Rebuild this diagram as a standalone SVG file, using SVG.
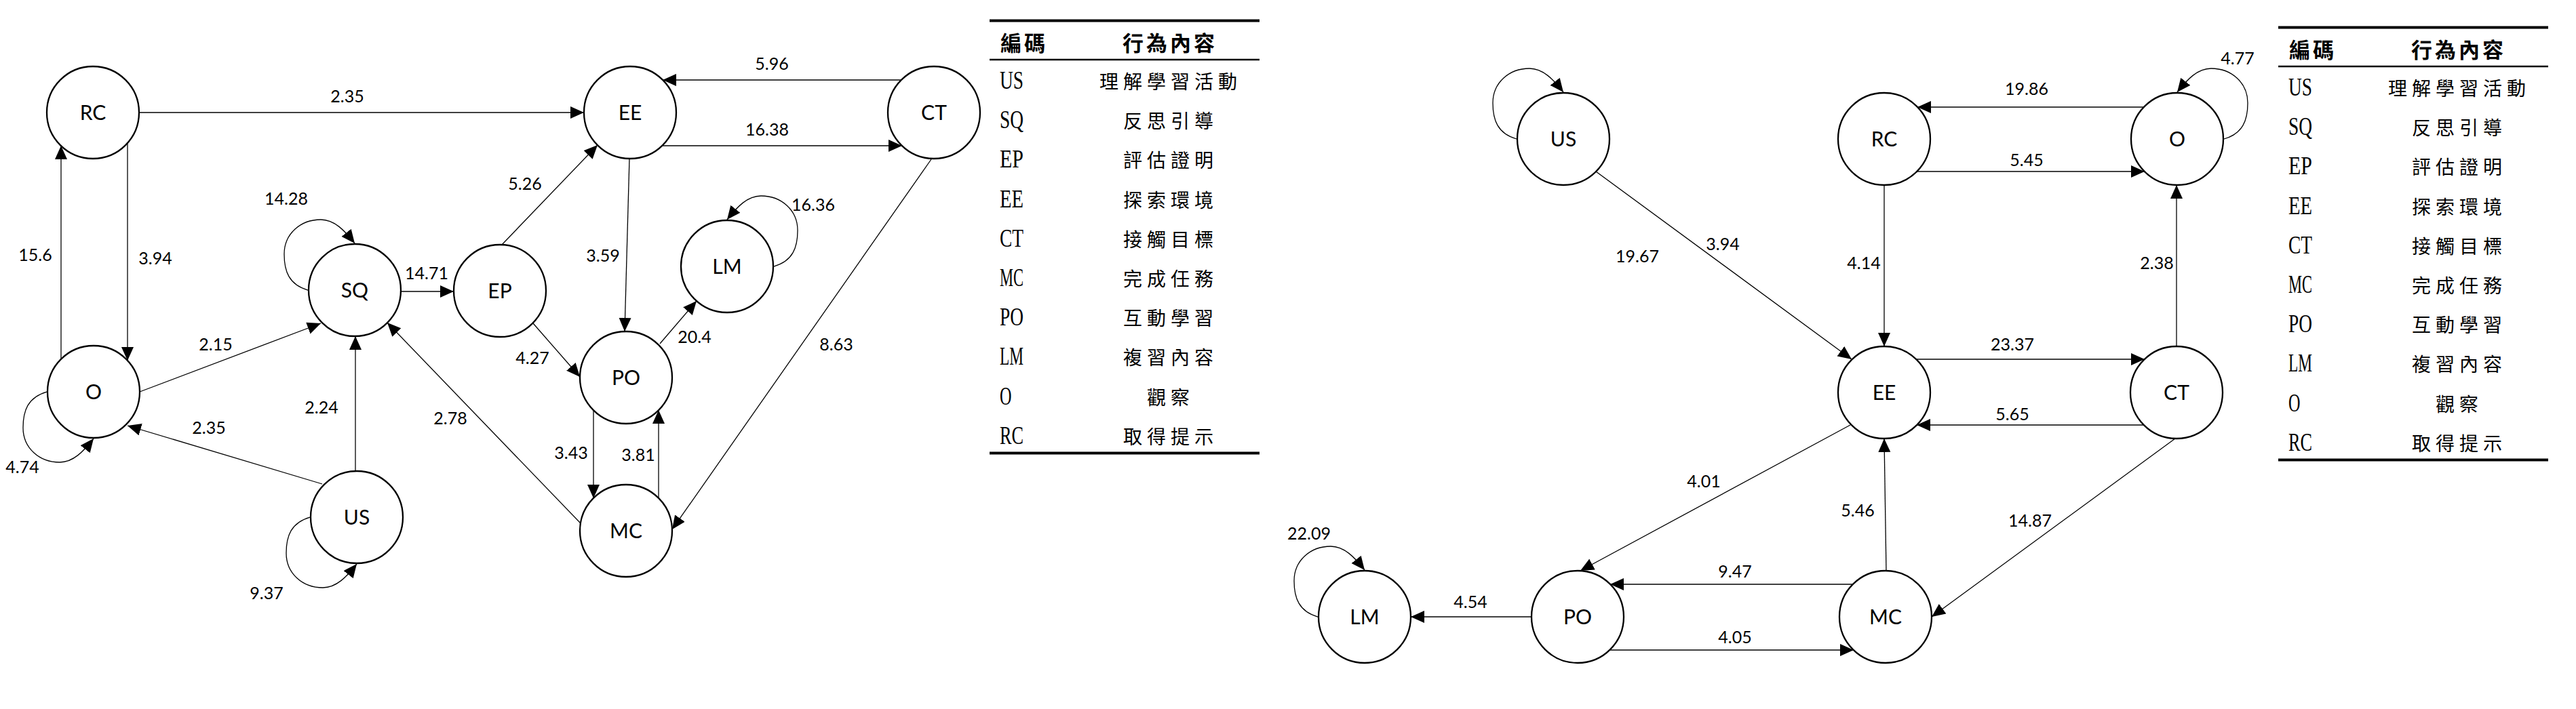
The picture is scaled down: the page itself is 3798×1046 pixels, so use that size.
<svg xmlns="http://www.w3.org/2000/svg" width="3798" height="1046" viewBox="0 0 3798 1046">
<style>
.node circle{fill:#fff;stroke:#000;stroke-width:2.3}
.node text{font-family:Lato,"Liberation Sans",sans-serif;font-size:30px;text-anchor:middle;fill:#000}
.lbl{font-family:Lato,"Liberation Sans",sans-serif;font-size:25px;text-anchor:middle;fill:#000}
.code{font-family:"Liberation Serif",serif;font-size:37px;fill:#000}
.desc{font-family:"Noto Sans CJK TC","Noto Sans CJK SC",sans-serif;font-size:28px;letter-spacing:7px;text-anchor:middle;fill:#000}
.head{font-family:"Noto Sans CJK TC","Noto Sans CJK SC",sans-serif;font-size:31px;font-weight:bold;letter-spacing:4px;fill:#000}
.thick{stroke:#000;stroke-width:4}
.thin{stroke:#000;stroke-width:2.3}
</style>
<defs>
<marker id="ah" markerUnits="userSpaceOnUse" markerWidth="22" markerHeight="20" refX="20" refY="9" orient="auto">
<path d="M0,0 L20,9 L0,18 z" fill="#000"/>
</marker>
</defs>
<rect width="3798" height="1046" fill="#fff"/>

<g id="connectors" fill="none" stroke="#000" stroke-width="1.3" marker-end="url(#ah)">
<!-- left graph -->
<line x1="205" y1="166" x2="861" y2="166"/>
<line x1="1329" y1="118" x2="977" y2="118"/>
<line x1="976" y1="215" x2="1330" y2="215"/>
<line x1="188" y1="211" x2="188" y2="532"/>
<line x1="90" y1="530" x2="90" y2="215"/>
<path d="M69,578 C41,586 34,606 34,631 C34,661 58,682 88,682 C108,682 123,666 138,647"/>
<line x1="206" y1="578" x2="473" y2="477"/>
<line x1="475" y1="714" x2="188" y2="628"/>
<line x1="524" y1="695" x2="524" y2="496"/>
<path d="M457,763 C429,771 422,791 422,816 C422,846 446,867 476,867 C496,867 511,851 526,832"/>
<path d="M454,428 C426,420 419,400 419,375 C419,345 443,324 473,324 C493,324 508,340 523,359"/>
<line x1="591" y1="430" x2="669" y2="430"/>
<line x1="740" y1="361" x2="881" y2="214"/>
<line x1="786" y1="477" x2="855" y2="556"/>
<line x1="928" y1="234" x2="921" y2="489"/>
<path d="M1141,393 C1169,385 1176,365 1176,340 C1176,310 1152,289 1122,289 C1102,289 1087,305 1072,324"/>
<line x1="973" y1="507" x2="1027" y2="444"/>
<line x1="875" y1="605" x2="875" y2="735"/>
<line x1="971" y1="735" x2="971" y2="605"/>
<line x1="856" y1="772" x2="571" y2="476"/>
<line x1="1373" y1="235" x2="991" y2="781"/>
<!-- right graph -->
<path d="M2236,205 C2208,197 2201,177 2201,152 C2201,122 2225,101 2255,101 C2275,101 2290,117 2305,136"/>
<line x1="2353" y1="253" x2="2730" y2="530"/>
<line x1="3161" y1="158" x2="2827" y2="158"/>
<line x1="2826" y1="253" x2="3162" y2="253"/>
<path d="M3279,205 C3307,197 3314,177 3314,152 C3314,122 3290,101 3260,101 C3240,101 3225,117 3210,136"/>
<line x1="2778" y1="273" x2="2778" y2="511"/>
<line x1="3209" y1="511" x2="3209" y2="273"/>
<line x1="2825" y1="530" x2="3162" y2="530"/>
<line x1="3161" y1="627" x2="2826" y2="627"/>
<line x1="2728" y1="627" x2="2330" y2="842"/>
<line x1="2781" y1="842" x2="2778" y2="647"/>
<line x1="3207" y1="647" x2="2848" y2="910"/>
<line x1="2732" y1="862" x2="2374" y2="862"/>
<line x1="2373" y1="959" x2="2733" y2="959"/>
<line x1="2258" y1="910" x2="2080" y2="910"/>
<path d="M1943,910 C1915,902 1908,882 1908,857 C1908,827 1932,806 1962,806 C1982,806 1997,822 2012,841"/>
</g>

<g id="edge-labels">
<text class="lbl" x="512" y="151">2.35</text>
<text class="lbl" x="1138" y="103">5.96</text>
<text class="lbl" x="1131" y="200">16.38</text>
<text class="lbl" x="52" y="385">15.6</text>
<text class="lbl" x="229" y="390">3.94</text>
<text class="lbl" x="422" y="302">14.28</text>
<text class="lbl" x="629" y="412">14.71</text>
<text class="lbl" x="774" y="280">5.26</text>
<text class="lbl" x="889" y="386">3.59</text>
<text class="lbl" x="1199" y="311">16.36</text>
<text class="lbl" x="318" y="517">2.15</text>
<text class="lbl" x="308" y="640">2.35</text>
<text class="lbl" x="33" y="698">4.74</text>
<text class="lbl" x="474" y="610">2.24</text>
<text class="lbl" x="664" y="626">2.78</text>
<text class="lbl" x="785" y="537">4.27</text>
<text class="lbl" x="1024" y="506">20.4</text>
<text class="lbl" x="1233" y="517">8.63</text>
<text class="lbl" x="842" y="677">3.43</text>
<text class="lbl" x="941" y="680">3.81</text>
<text class="lbl" x="393" y="884">9.37</text>
<text class="lbl" x="2988" y="140">19.86</text>
<text class="lbl" x="2988" y="245">5.45</text>
<text class="lbl" x="3299" y="95">4.77</text>
<text class="lbl" x="2414" y="387">19.67</text>
<text class="lbl" x="2540" y="369">3.94</text>
<text class="lbl" x="2748" y="397">4.14</text>
<text class="lbl" x="3180" y="397">2.38</text>
<text class="lbl" x="2967" y="517">23.37</text>
<text class="lbl" x="2967" y="620">5.65</text>
<text class="lbl" x="2512" y="719">4.01</text>
<text class="lbl" x="2739" y="762">5.46</text>
<text class="lbl" x="2993" y="777">14.87</text>
<text class="lbl" x="2558" y="852">9.47</text>
<text class="lbl" x="2558" y="949">4.05</text>
<text class="lbl" x="2168" y="897">4.54</text>
<text class="lbl" x="1930" y="796">22.09</text>
</g>

<g id="left-nodes">
<g id="L-RC" class="node"><circle cx="137" cy="166" r="68"/><text x="137" y="177">RC</text></g>
<g id="L-EE" class="node"><circle cx="929" cy="166" r="68"/><text x="929" y="177">EE</text></g>
<g id="L-CT" class="node"><circle cx="1377" cy="166" r="68"/><text x="1377" y="177">CT</text></g>
<g id="L-SQ" class="node"><circle cx="523" cy="428" r="68"/><text x="523" y="439">SQ</text></g>
<g id="L-EP" class="node"><circle cx="737" cy="429" r="68"/><text x="737" y="440">EP</text></g>
<g id="L-LM" class="node"><circle cx="1072" cy="393" r="68"/><text x="1072" y="404">LM</text></g>
<g id="L-PO" class="node"><circle cx="923" cy="557" r="68"/><text x="923" y="568">PO</text></g>
<g id="L-O" class="node"><circle cx="138" cy="578" r="68"/><text x="138" y="589">O</text></g>
<g id="L-US" class="node"><circle cx="526" cy="763" r="68"/><text x="526" y="774">US</text></g>
<g id="L-MC" class="node"><circle cx="923" cy="783" r="68"/><text x="923" y="794">MC</text></g>
</g>

<g id="right-nodes">
<g id="R-US" class="node"><circle cx="2305" cy="205" r="68"/><text x="2305" y="216">US</text></g>
<g id="R-RC" class="node"><circle cx="2778" cy="205" r="68"/><text x="2778" y="216">RC</text></g>
<g id="R-O" class="node"><circle cx="3210" cy="205" r="68"/><text x="3210" y="216">O</text></g>
<g id="R-EE" class="node"><circle cx="2778" cy="579" r="68"/><text x="2778" y="590">EE</text></g>
<g id="R-CT" class="node"><circle cx="3209" cy="579" r="68"/><text x="3209" y="590">CT</text></g>
<g id="R-LM" class="node"><circle cx="2012" cy="910" r="68"/><text x="2012" y="921">LM</text></g>
<g id="R-PO" class="node"><circle cx="2326" cy="910" r="68"/><text x="2326" y="921">PO</text></g>
<g id="R-MC" class="node"><circle cx="2780" cy="910" r="68"/><text x="2780" y="921">MC</text></g>
</g>

<g id="legend-left">
<line class="thick" x1="1459" y1="30.5" x2="1857" y2="30.5"/>
<line class="thin" x1="1459" y1="88" x2="1857" y2="88"/>
<line class="thick" x1="1459" y1="668.5" x2="1857" y2="668.5"/>
<text class="head" x="1475" y="75">編碼</text>
<text class="head" x="1725" y="75" text-anchor="middle">行為內容</text>
<text class="code" x="1474" y="131" textLength="35" lengthAdjust="spacingAndGlyphs">US</text>
<text class="desc" x="1726" y="131">理解學習活動</text>
<text class="code" x="1474" y="189" textLength="35" lengthAdjust="spacingAndGlyphs">SQ</text>
<text class="desc" x="1726" y="189">反思引導</text>
<text class="code" x="1474" y="247" textLength="35" lengthAdjust="spacingAndGlyphs">EP</text>
<text class="desc" x="1726" y="247">評估證明</text>
<text class="code" x="1474" y="306" textLength="35" lengthAdjust="spacingAndGlyphs">EE</text>
<text class="desc" x="1726" y="306">探索環境</text>
<text class="code" x="1474" y="364" textLength="35" lengthAdjust="spacingAndGlyphs">CT</text>
<text class="desc" x="1726" y="364">接觸目標</text>
<text class="code" x="1474" y="422" textLength="35" lengthAdjust="spacingAndGlyphs">MC</text>
<text class="desc" x="1726" y="422">完成任務</text>
<text class="code" x="1474" y="480" textLength="35" lengthAdjust="spacingAndGlyphs">PO</text>
<text class="desc" x="1726" y="480">互動學習</text>
<text class="code" x="1474" y="538" textLength="35" lengthAdjust="spacingAndGlyphs">LM</text>
<text class="desc" x="1726" y="538">複習內容</text>
<text class="code" x="1474" y="597" textLength="17.5" lengthAdjust="spacingAndGlyphs">O</text>
<text class="desc" x="1726" y="597">觀察</text>
<text class="code" x="1474" y="655" textLength="35" lengthAdjust="spacingAndGlyphs">RC</text>
<text class="desc" x="1726" y="655">取得提示</text>
</g>

<g id="legend-right">
<line class="thick" x1="3359" y1="40.5" x2="3757" y2="40.5"/>
<line class="thin" x1="3359" y1="98" x2="3757" y2="98"/>
<line class="thick" x1="3359" y1="678.5" x2="3757" y2="678.5"/>
<text class="head" x="3375" y="85">編碼</text>
<text class="head" x="3625" y="85" text-anchor="middle">行為內容</text>
<text class="code" x="3374" y="141" textLength="35" lengthAdjust="spacingAndGlyphs">US</text>
<text class="desc" x="3626" y="141">理解學習活動</text>
<text class="code" x="3374" y="199" textLength="35" lengthAdjust="spacingAndGlyphs">SQ</text>
<text class="desc" x="3626" y="199">反思引導</text>
<text class="code" x="3374" y="257" textLength="35" lengthAdjust="spacingAndGlyphs">EP</text>
<text class="desc" x="3626" y="257">評估證明</text>
<text class="code" x="3374" y="316" textLength="35" lengthAdjust="spacingAndGlyphs">EE</text>
<text class="desc" x="3626" y="316">探索環境</text>
<text class="code" x="3374" y="374" textLength="35" lengthAdjust="spacingAndGlyphs">CT</text>
<text class="desc" x="3626" y="374">接觸目標</text>
<text class="code" x="3374" y="432" textLength="35" lengthAdjust="spacingAndGlyphs">MC</text>
<text class="desc" x="3626" y="432">完成任務</text>
<text class="code" x="3374" y="490" textLength="35" lengthAdjust="spacingAndGlyphs">PO</text>
<text class="desc" x="3626" y="490">互動學習</text>
<text class="code" x="3374" y="548" textLength="35" lengthAdjust="spacingAndGlyphs">LM</text>
<text class="desc" x="3626" y="548">複習內容</text>
<text class="code" x="3374" y="607" textLength="17.5" lengthAdjust="spacingAndGlyphs">O</text>
<text class="desc" x="3626" y="607">觀察</text>
<text class="code" x="3374" y="665" textLength="35" lengthAdjust="spacingAndGlyphs">RC</text>
<text class="desc" x="3626" y="665">取得提示</text>
</g>
</svg>
